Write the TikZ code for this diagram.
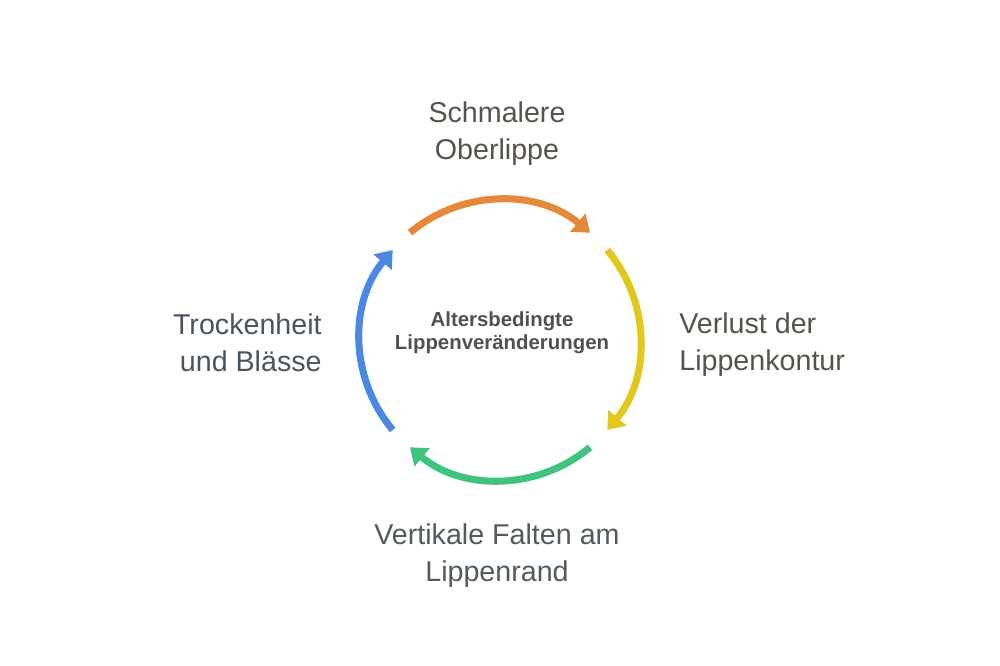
\documentclass[tikz,border=0pt]{standalone}
\usepackage{fontspec}
\setmainfont{Liberation Sans}
\usepackage{xcolor}
\usetikzlibrary{arrows.meta,positioning}

\definecolor{arcorange}{HTML}{E4883A}
\definecolor{arcyellow}{HTML}{E2C81C}
\definecolor{arcgreen}{HTML}{3EC47E}
\definecolor{arcblue}{HTML}{4A88E2}
\definecolor{txtbrown}{HTML}{57534A}
\definecolor{txtslate}{HTML}{4B5360}
\definecolor{txtgreen}{HTML}{515B57}
\definecolor{txtcentre}{HTML}{505050}

\begin{document}
\begin{tikzpicture}[
    cyclearc/.style={line width=4pt, -{Triangle[length=9pt,width=13pt]}},
    phase/.style={font=\fontsize{16.3}{21}\selectfont, inner sep=0pt},
    hubtext/.style={font=\fontsize{11.6}{13.2}\selectfont\bfseries, align=center, text=txtcentre}
]
    \useasboundingbox (-10,-6.52) rectangle (10,6.8);

    % Centre of the cycle
    \coordinate (hub) at (0,0);
    \node[hubtext] (centre) at (0.04,0.14) {Altersbedingte\\Lippenveränderungen};

    % Start points of the four arcs
    \coordinate (topstart) at (130:2.8);
    \coordinate (rightstart) at (40:2.8);
    \coordinate (bottomstart) at (-50:2.8);
    \coordinate (leftstart) at (-140:2.8);

    % Arcs, clockwise
    \draw[cyclearc, arcorange] (topstart) arc[start angle=130, end angle=50, radius=2.8];
    \draw[cyclearc, arcyellow] (rightstart) arc[start angle=40, end angle=-40, radius=2.8];
    \draw[cyclearc, arcgreen] (bottomstart) arc[start angle=-50, end angle=-130, radius=2.8];
    \draw[cyclearc, arcblue] (leftstart) arc[start angle=-140, end angle=-220, radius=2.8];

    % Phase labels
    \node[phase, align=center, text=txtbrown] (upper) at (-0.06,4.12) {Schmalere\\Oberlippe};
    \node[phase, align=left, text=txtbrown, anchor=west] (contour) at (3.58,-0.1) {Verlust der\\Lippenkontur};
    \node[phase, align=center, text=txtgreen] (folds) at (-0.06,-4.32) {Vertikale Falten am\\Lippenrand};
    \node[phase, align=right, text=txtslate, anchor=east] (dryness) at (-3.56,-0.06) {Trockenheit\\und Blässe};
\end{tikzpicture}
\end{document}
